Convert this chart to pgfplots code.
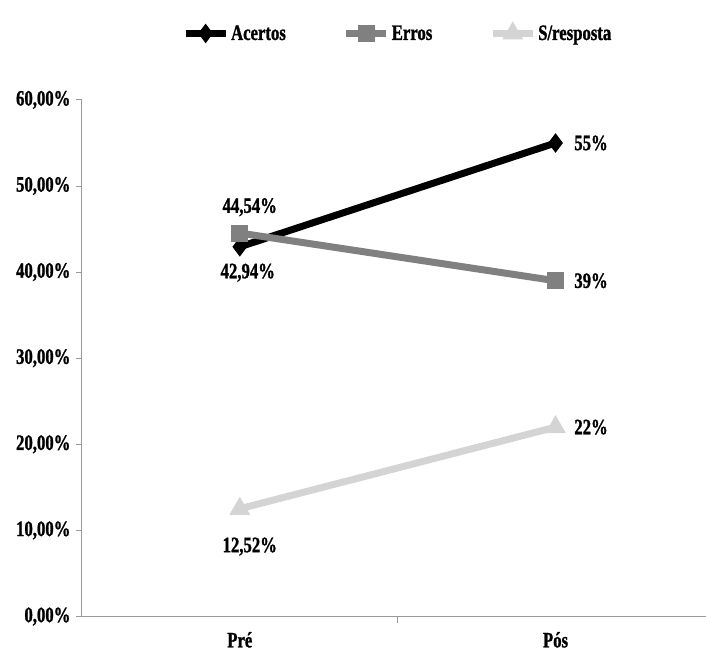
\documentclass[border=0pt]{standalone}
\usepackage{fontspec}
\setmainfont{Liberation Serif}[FakeStretch=0.76, FakeBold=1.2]
\usepackage{pgfplots}
\pgfplotsset{compat=1.18}
\definecolor{errgray}{HTML}{808080}
\definecolor{srgray}{HTML}{D4D4D4}
\definecolor{axgray}{HTML}{9A9A9A}
\begin{document}
\begin{tikzpicture}
\begin{axis}[
  scale only axis,
  width=624pt, height=517pt,
  xmin=0, xmax=1.975, ymin=0, ymax=60,
  axis x line*=bottom, axis y line*=left,
  axis line style={axgray, line width=1pt},
  font=\fontsize{22}{25}\selectfont\bfseries,
  /pgf/number format/assume math mode=true,
  ytick={0,10,20,30,40,50,60},
  yticklabels={{0,00\%},{10,00\%},{20,00\%},{30,00\%},{40,00\%},{50,00\%},{60,00\%}},
  y tick style={axgray, line width=1pt},
  major tick length=6pt,
  tick align=outside,
  xtick={0.5,1.5},
  xticklabels={Pré,Pós},
  x tick style={draw=none},
  extra x ticks={1},
  extra x tick labels={},
  extra x tick style={x tick style={draw=axgray, line width=1pt}},
  xticklabel style={yshift=-6pt},
  yticklabel style={xshift=-2pt},
  legend style={draw=none, at={(0.5,1.0)}, anchor=center, xshift=4pt, yshift=67pt, font=\fontsize{22}{25}\selectfont\bfseries, /tikz/every even column/.append style={column sep=55pt}},
  legend columns=3,
  legend image code/.code={\draw[#1, line width=7pt] (0pt,0pt) -- (40pt,0pt); \draw[#1, mark repeat=1, mark phase=1] plot coordinates {(20pt,0pt)};},
  clip=false,
]
\addplot[black, line width=7pt, mark=diamond*, mark size=9pt, mark options={solid, line width=1pt}]
  coordinates {(0.5,42.94) (1.5,55)}
  node[pos=0, below=10pt, black, xshift=8pt] {42,94\%}
  node[pos=1, right=12pt, black] {55\%};
\addlegendentry{Acertos}
\addplot[errgray, line width=7pt, mark=square*, mark size=8pt, mark options={solid, line width=1pt}]
  coordinates {(0.5,44.54) (1.5,39)}
  node[pos=0, above=10pt, black, xshift=10pt] {44,54\%}
  node[pos=1, right=12pt, black] {39\%};
\addlegendentry{Erros}
\addplot[srgray, line width=7pt, mark=triangle*, mark size=11pt, mark options={solid, line width=1pt}]
  coordinates {(0.5,12.52) (1.5,22)}
  node[pos=0, below=22pt, black, xshift=10pt] {12,52\%}
  node[pos=1, right=12pt, black] {22\%};
\addlegendentry{S/resposta}
\end{axis}
\path ([xshift=-82pt,yshift=-43pt]current axis.south west) rectangle ([yshift=100pt]current axis.north east);
\end{tikzpicture}
\end{document}
